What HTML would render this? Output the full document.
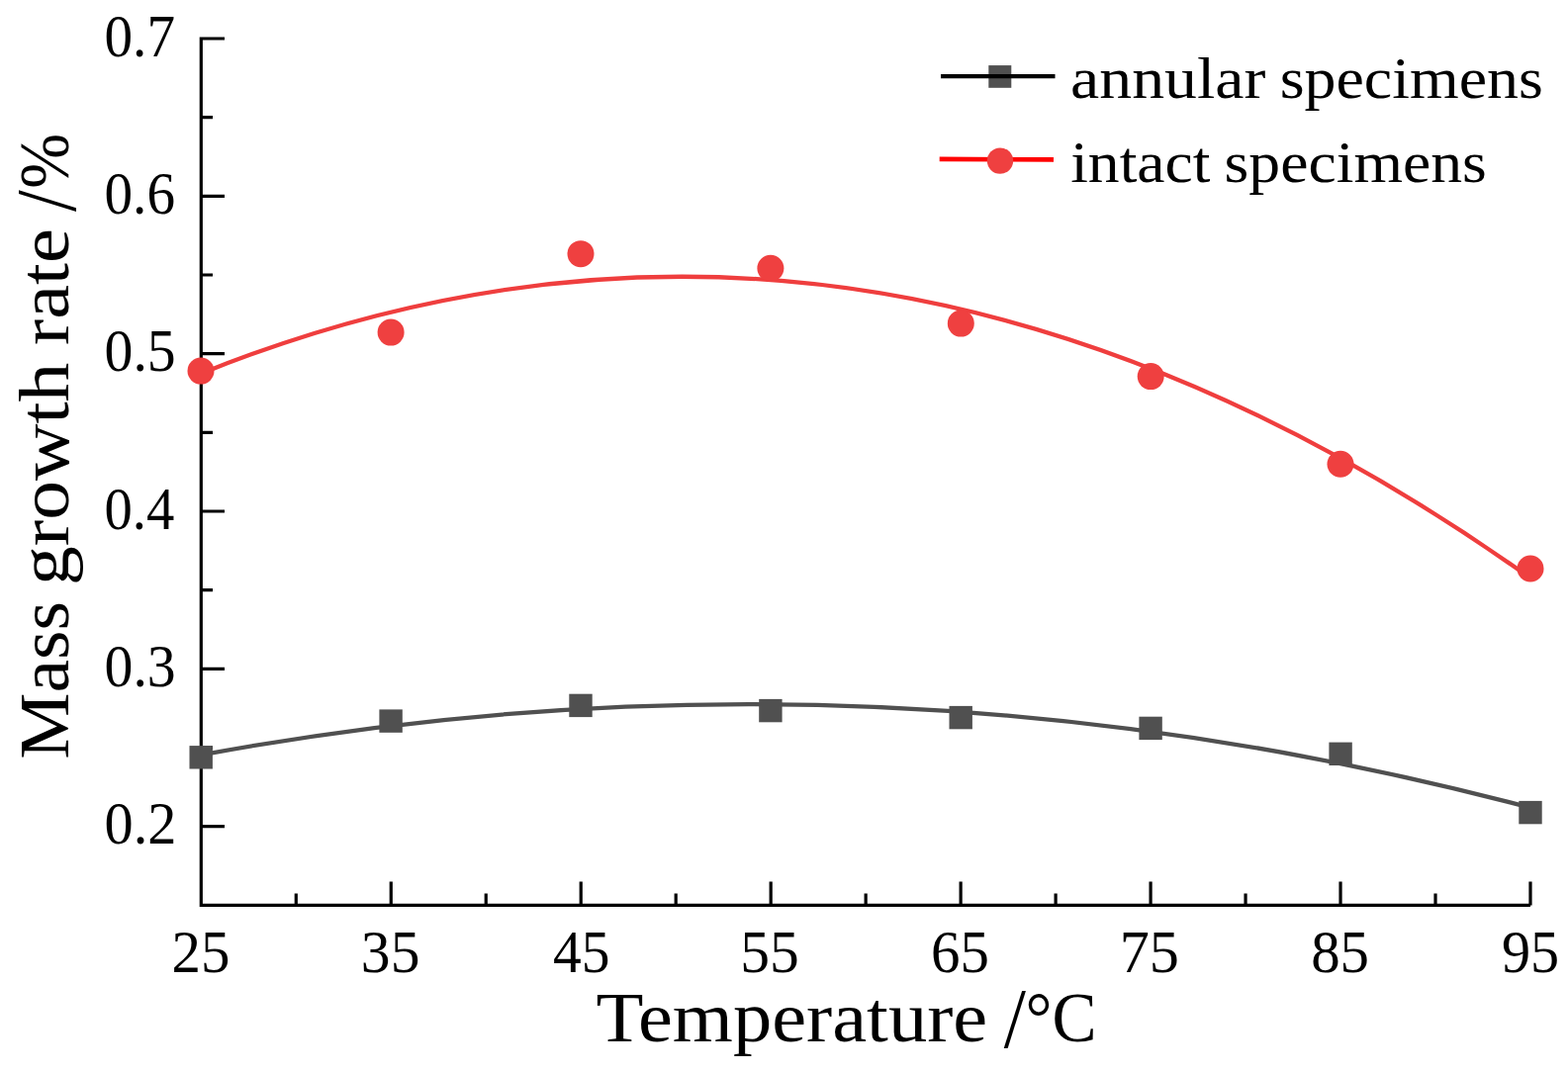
<!DOCTYPE html>
<html><head><meta charset="utf-8"><title>Mass growth rate vs Temperature</title>
<style>html,body{margin:0;padding:0;background:#fff;width:1585px;height:1084px;overflow:hidden}svg{display:block}</style>
</head><body>
<svg width="1585" height="1084" viewBox="0 0 1585 1084">
<rect width="1585" height="1084" fill="#fff"/>
<path d="M203.30,37.6V916.9M201.8,915.40H1547.00 M203.30,915.40V891.5 M395.26,915.40V891.5 M587.21,915.40V891.5 M779.17,915.40V891.5 M971.13,915.40V891.5 M1163.09,915.40V891.5 M1355.04,915.40V891.5 M1547.00,915.40V891.5 M299.28,915.40V903.4 M491.24,915.40V903.4 M683.19,915.40V903.4 M875.15,915.40V903.4 M1067.11,915.40V903.4 M1259.06,915.40V903.4 M1451.02,915.40V903.4 M203.30,39.00H227 M203.30,198.34H227 M203.30,357.68H227 M203.30,517.02H227 M203.30,676.36H227 M203.30,835.70H227 M203.30,118.67H215 M203.30,278.01H215 M203.30,437.35H215 M203.30,596.69H215 M203.30,756.03H215 M203.30,915.37H215" fill="none" stroke="#000" stroke-width="3.2"/>
<path d="M203.30,763.41Q875.15,638.78 1547.00,816.83" fill="none" stroke="#505050" stroke-width="4.3"/>
<path d="M203.30,377.65Q875.15,107.00 1547.00,584.51" fill="none" stroke="#EF3E3E" stroke-width="4.3"/>
<rect x="191.50" y="754.10" width="23.40" height="23.40" fill="#505050"/>
<rect x="383.40" y="717.40" width="23.40" height="23.40" fill="#505050"/>
<rect x="575.30" y="701.70" width="23.40" height="23.40" fill="#505050"/>
<rect x="767.20" y="706.90" width="23.40" height="23.40" fill="#505050"/>
<rect x="959.50" y="713.90" width="23.40" height="23.40" fill="#505050"/>
<rect x="1151.40" y="724.70" width="23.40" height="23.40" fill="#505050"/>
<rect x="1343.40" y="750.60" width="23.40" height="23.40" fill="#505050"/>
<rect x="1535.30" y="809.90" width="23.40" height="23.40" fill="#505050"/>
<circle cx="203.00" cy="375.10" r="13.5" fill="#EF4040"/>
<circle cx="395.10" cy="336.10" r="13.5" fill="#EF4040"/>
<circle cx="587.00" cy="256.65" r="13.5" fill="#EF4040"/>
<circle cx="778.90" cy="271.30" r="13.5" fill="#EF4040"/>
<circle cx="971.30" cy="327.10" r="13.5" fill="#EF4040"/>
<circle cx="1163.20" cy="380.60" r="13.5" fill="#EF4040"/>
<circle cx="1355.00" cy="469.30" r="13.5" fill="#EF4040"/>
<circle cx="1547.00" cy="575.00" r="13.5" fill="#EF4040"/>
<rect x="999.3" y="66.1" width="23" height="22.7" fill="#505050"/>
<path d="M951,77.1H1066.5" stroke="#000" stroke-width="4.2"/>
<path d="M949.7,160.9L1065,161.4" stroke="#FF0000" stroke-width="4.6"/>
<circle cx="1011" cy="162.6" r="13.2" fill="#EF4040"/>
<g font-family="'Liberation Serif', serif" fill="#000">
<text x="105.50" y="56.50" font-size="61.5" textLength="71.50" lengthAdjust="spacingAndGlyphs">0.7</text>
<text x="105.50" y="215.84" font-size="61.5" textLength="71.50" lengthAdjust="spacingAndGlyphs">0.6</text>
<text x="105.50" y="375.18" font-size="61.5" textLength="72.20" lengthAdjust="spacingAndGlyphs">0.5</text>
<text x="105.50" y="534.52" font-size="61.5" textLength="70.80" lengthAdjust="spacingAndGlyphs">0.4</text>
<text x="105.50" y="693.86" font-size="61.5" textLength="72.20" lengthAdjust="spacingAndGlyphs">0.3</text>
<text x="105.50" y="853.20" font-size="61.5" textLength="72.90" lengthAdjust="spacingAndGlyphs">0.2</text>
<text x="173.50" y="982.70" font-size="61.5" textLength="58.90" lengthAdjust="spacingAndGlyphs">25</text>
<text x="364.86" y="982.70" font-size="61.5" textLength="59.60" lengthAdjust="spacingAndGlyphs">35</text>
<text x="559.01" y="982.70" font-size="61.5" textLength="57.50" lengthAdjust="spacingAndGlyphs">45</text>
<text x="748.27" y="982.70" font-size="61.5" textLength="59.60" lengthAdjust="spacingAndGlyphs">55</text>
<text x="941.03" y="982.70" font-size="61.5" textLength="58.90" lengthAdjust="spacingAndGlyphs">65</text>
<text x="1131.69" y="982.70" font-size="61.5" textLength="60.30" lengthAdjust="spacingAndGlyphs">75</text>
<text x="1325.14" y="982.70" font-size="61.5" textLength="58.90" lengthAdjust="spacingAndGlyphs">85</text>
<text x="1517.90" y="982.70" font-size="61.5" textLength="58.20" lengthAdjust="spacingAndGlyphs">95</text>
<text x="1082.14" y="98.80" font-size="59" textLength="197.18" lengthAdjust="spacingAndGlyphs">annular</text>
<text x="1293.70" y="98.80" font-size="59" textLength="266.16" lengthAdjust="spacingAndGlyphs">specimens</text>
<text x="1082.16" y="183.60" font-size="59" textLength="141.28" lengthAdjust="spacingAndGlyphs">intact</text>
<text x="1237.58" y="183.60" font-size="59" textLength="265.34" lengthAdjust="spacingAndGlyphs">specimens</text>
<text x="602.48" y="1053.00" font-size="72" textLength="395.76" lengthAdjust="spacingAndGlyphs">Temperature</text>
<text x="1014.70" y="1058.85" font-size="86.9" textLength="22.20" lengthAdjust="spacingAndGlyphs">/</text>
<text x="1036.50" y="1053.00" font-size="72" textLength="72.00" lengthAdjust="spacingAndGlyphs">°C</text>
<text transform="translate(68.60,767.66) rotate(-90)" font-size="72" textLength="159.52" lengthAdjust="spacingAndGlyphs">Mass</text>
<text transform="translate(68.60,592.06) rotate(-90)" font-size="72" textLength="225.46" lengthAdjust="spacingAndGlyphs">growth</text>
<text transform="translate(68.60,348.96) rotate(-90)" font-size="72" textLength="117.82" lengthAdjust="spacingAndGlyphs">rate</text>
<text transform="translate(75.70,214.00) rotate(-90)" font-size="86.9" textLength="21.70" lengthAdjust="spacingAndGlyphs">/</text>
<text transform="translate(68.60,190.80) rotate(-90)" font-size="72" textLength="55.90" lengthAdjust="spacingAndGlyphs">%</text>
</g></svg>
</body></html>
